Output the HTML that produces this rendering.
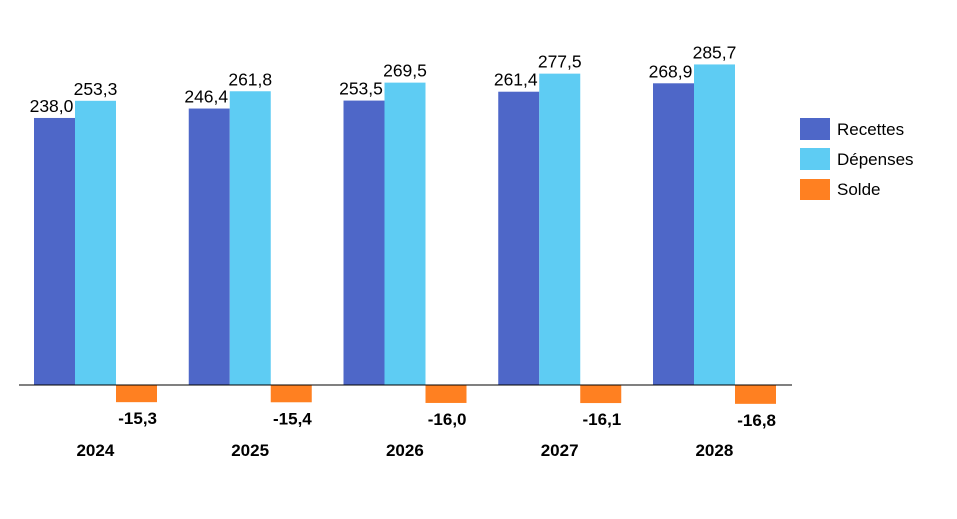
<!DOCTYPE html>
<html><head><meta charset="utf-8"><style>
body{margin:0;background:#fff;}
svg{font-family:"Liberation Sans",sans-serif;}
</style></head><body>
<svg id="chart" width="957" height="514" viewBox="0 0 957 514" xmlns="http://www.w3.org/2000/svg">
<g id="bars"></g>
<line x1="19" x2="792" y1="385" y2="385" stroke="#000" stroke-width="1"/>
<g font-size="17" fill="#000">
<g><rect x="800" y="118" width="30" height="22" fill="#4E67C8"/><text x="837" y="135">Recettes</text></g>
<g><rect x="800" y="148" width="30" height="22" fill="#5ECCF3"/><text x="837" y="165">Dépenses</text></g>
<g><rect x="800" y="179" width="30" height="21" fill="#FF8021"/><text x="837" y="195">Solde</text></g>
</g>
</svg>
<script>
const categories=["2024","2025","2026","2027","2028"];
const recettes=[238.0,246.4,253.5,261.4,268.9];
const depenses=[253.3,261.8,269.5,277.5,285.7];
const solde=[-15.3,-15.4,-16.0,-16.1,-16.8];
const NS="http://www.w3.org/2000/svg";
const g=document.getElementById('bars');
const base=385, k=1.122, x0=19, gw=154.75, bw=41, pad=15;
function y(v){return base - v*k;}
function fmt(v){return v.toFixed(1).replace('.',',');}
function mk(tag,attrs,parent){const e=document.createElementNS(NS,tag);for(const a in attrs)e.setAttribute(a,attrs[a]);parent.appendChild(e);return e;}
const series=[[recettes,"#4E67C8","recettes"],[depenses,"#5ECCF3","depenses"],[solde,"#FF8021","solde"]];
categories.forEach((c,i)=>{
  const gx=x0+gw*i+pad;
  series.forEach(([arr,col,nm],s)=>{
    const v=arr[i];const bx=gx+bw*s;
    const top=Math.min(y(v),base),h=Math.abs(y(v)-base);
    const r=mk('rect',{x:bx,y:top,width:bw,height:h,fill:col},g);
    
    
    let t;
    if(v>=0){
      t=mk('text',{x:bx+bw/2-(s===0?3:0),y:y(v)-6,'text-anchor':'middle','font-size':'17.5',fill:'#000'},g);
    } else {
      t=mk('text',{x:bx+bw,y:y(v)+22,'text-anchor':'end','font-size':'17','font-weight':'bold',fill:'#000'},g);
    }
    t.textContent=fmt(v);
    
    
  });
  const lt=mk('text',{x:x0+gw*i+gw/2-1,y:456,'text-anchor':'middle','font-size':'17','font-weight':'bold',fill:'#000'},g);
  lt.textContent=c;
  
  
});
</script>
</body></html>
